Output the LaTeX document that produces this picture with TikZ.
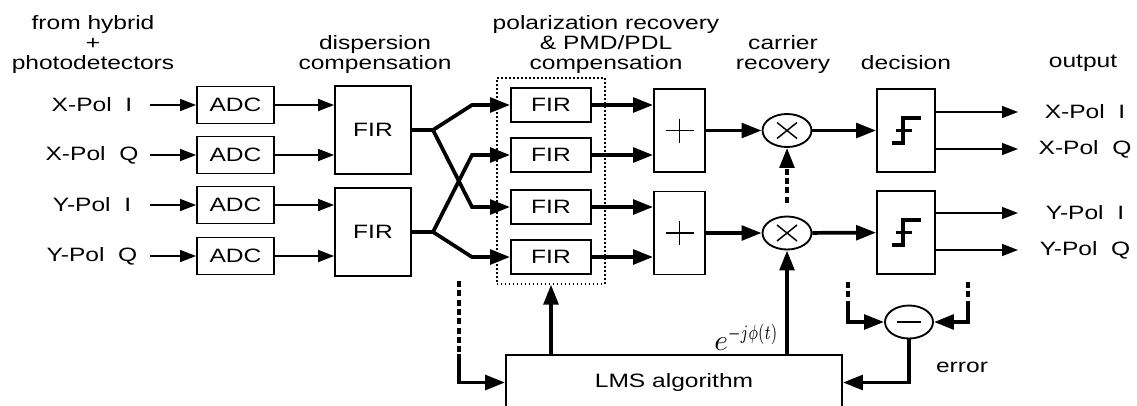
\documentclass[tikz,border=0pt]{standalone}
\usepackage{graphicx}
\usepackage{fontspec}
\setmainfont{Liberation Sans}[FakeStretch=1.27]
\usetikzlibrary{arrows.meta, shapes.geometric, fit, calc}

\newcommand{\lblsize}{\fontsize{14.5}{15}\selectfont}

\tikzset{
  blk/.style={draw, line width=1.4pt, inner sep=0pt, font=\lblsize},
  sig/.style={line width=1.1pt, -{Triangle[length=12pt,width=9pt]}},
  bus/.style={line width=2.8pt, -{Triangle[length=15pt,width=11pt]}},
  busl/.style={line width=2.8pt},
  fb/.style={line width=2.8pt, dash pattern=on 4.5pt off 2.5pt},
  lbl/.style={font=\lblsize, align=center},
  oval/.style={draw, ellipse, line width=1.4pt, inner sep=0pt, minimum width=36.75pt, minimum height=24.75pt}
}

\begin{document}
\begin{tikzpicture}[x=0.75pt,y=-0.75pt]
\useasboundingbox (0,0) rectangle (1137,405);

% headings
\node[lbl] (hin) at (93,44) {from hybrid\\+\\photodetectors};
\node[lbl] (hdisp) at (375,54) {dispersion\\compensation};
\node[lbl] (hpol) at (606,44) {polarization recovery\\\& PMD/PDL\\compensation};
\node[lbl] (hcar) at (783,54) {carrier\\recovery};
\node[lbl] (hdec) at (906,63) {decision};
\node[lbl] (hout) at (1083,63) {output};

% inputs and ADCs
\foreach \n/\y/\lab in {1/105/X-Pol~~I, 2/155/X-Pol~~Q, 3/205/Y-Pol~~I, 4/256/Y-Pol~~Q} {
  \node[lbl] (in\n) at (92,\y) {\lab};
  \coordinate (s\n) at (150,\y);
  \node[blk, minimum width=57.75pt, minimum height=27.75pt] (adc\n) at (235.5,\y) {ADC};
  \draw[sig] (s\n) -- (adc\n);
}

% dispersion compensation
\node[blk, minimum width=57pt, minimum height=66pt] (cd1) at (373,130) {FIR};
\node[blk, minimum width=57pt, minimum height=66pt] (cd2) at (373,232) {FIR};
\draw[sig] (adc1) -- (adc1 -| cd1.west);
\draw[sig] (adc2) -- (adc2 -| cd1.west);
\draw[sig] (adc3) -- (adc3 -| cd2.west);
\draw[sig] (adc4) -- (adc4 -| cd2.west);

% butterfly
\foreach \n/\y in {1/105, 2/155, 3/207, 4/257}
  \node[blk, minimum width=60pt, minimum height=25.5pt] (pf\n) at (551,\y) {FIR};
\node[draw, dotted, line width=1pt, inner xsep=9.75pt, inner ysep=6.75pt, fit=(pf1)(pf4)] (pol) {};

\coordinate (b1) at (433,130);
\coordinate (b2) at (433,232);
\draw[busl] (cd1.east) -- (b1);
\draw[busl] (cd2.east) -- (b2);
\draw[bus] (b1) -- ++(39,-25) -- (pf1);
\draw[bus] (b1) -- ++(39,77) -- (pf3);
\draw[bus] (b2) -- ++(39,-77) -- (pf2);
\draw[bus] (b2) -- ++(39,25) -- (pf4);

% adders
\node[blk, minimum width=38.25pt, minimum height=62.25pt] (sum1) at (679.5,130.5) {};
\node[blk, minimum width=38.25pt, minimum height=62.25pt] (sum2) at (679.5,233) {};
\foreach \s in {sum1, sum2}
  \draw[line width=1.1pt] ($(\s.center)+(-14,0)$) -- ++(28,0) ($(\s.center)+(0,-12)$) -- ++(0,24);
\draw[bus] (pf1) -- (pf1 -| sum1.west);
\draw[bus] (pf2) -- (pf2 -| sum1.west);
\draw[bus] (pf3) -- (pf3 -| sum2.west);
\draw[bus] (pf4) -- (pf4 -| sum2.west);

% carrier recovery
\node[oval] (mul1) at (787,130.5) {};
\node[oval] (mul2) at (787,233) {};
\foreach \m in {mul1, mul2}
  \draw[line width=1.1pt] ($(\m.center)+(-10,-8)$) -- ++(20,16) ($(\m.center)+(10,-8)$) -- ++(-20,16);
\draw[bus] (sum1) -- (mul1);
\draw[bus] (sum2) -- (mul2);
\draw[bus, fb] ($(mul2.north)+(0,-13)$) -- (mul1.south);

% decision
\node[blk, minimum width=43.5pt, minimum height=62.25pt] (dec1) at (906,130.5) {};
\node[blk, minimum width=43.5pt, minimum height=62.25pt] (dec2) at (906,232.5) {};
\foreach \d in {dec1, dec2}
  \draw[line width=2.4pt, shift={(\d.center)}] (-14,12.5) -- (-3,12.5) -- (-3,-12.5) -- (15,-12.5) (-10,0) -- (6,0);
\draw[bus] (mul1) -- (dec1);
\draw[bus] (mul2) -- (dec2);

% outputs
\foreach \n/\y/\d/\lab in {1/112/dec1/X-Pol~~I, 2/149/dec1/X-Pol~~Q, 3/213/dec2/Y-Pol~~I, 4/250/dec2/Y-Pol~~Q} {
  \coordinate (o\n) at (1018,\y);
  \node[lbl] (out\n) at (1085,\y) {\lab};
  \draw[sig] (\d.east |- o\n) -- (o\n);
}

% LMS loop
\node[blk, minimum width=252pt, minimum height=41.25pt] (lms) at (674,382.5) {LMS algorithm};
\draw[bus] (lms.north -| pol.south) -- (pol.south);
\draw[bus] (lms.north -| mul2.south) -- (mul2.south);
\node[anchor=base east, inner sep=0pt] (phase) at (779,350) {\scalebox{2.2}{$e^{\scalebox{0.7}[1]{$\scriptstyle -j\phi(t)$}}$}};

\coordinate (fl) at (459,281);
\draw[fb] (fl) -- (fl |- lms.north);
\draw[bus] (fl |- lms.north) -- (fl |- lms) -- (lms.west);

\node[oval, minimum width=36pt] (sub) at (909,322) {};
\draw[line width=1.5pt] ($(sub.center)+(-12,0)$) -- ++(24,0);
\coordinate (el) at (848,282);
\coordinate (er) at (968,282);
\draw[fb] (el) -- ($(el)+(0,25)$);
\draw[fb] (er) -- ($(er)+(0,25)$);
\draw[bus] ($(el)+(0,25)$) -- (el |- sub) -- (sub.west);
\draw[bus] ($(er)+(0,25)$) -- (er |- sub) -- (sub.east);
\draw[bus] (sub.south) |- (lms.east);
\node[lbl] (err) at (962,367) {error};

\end{tikzpicture}
\end{document}
